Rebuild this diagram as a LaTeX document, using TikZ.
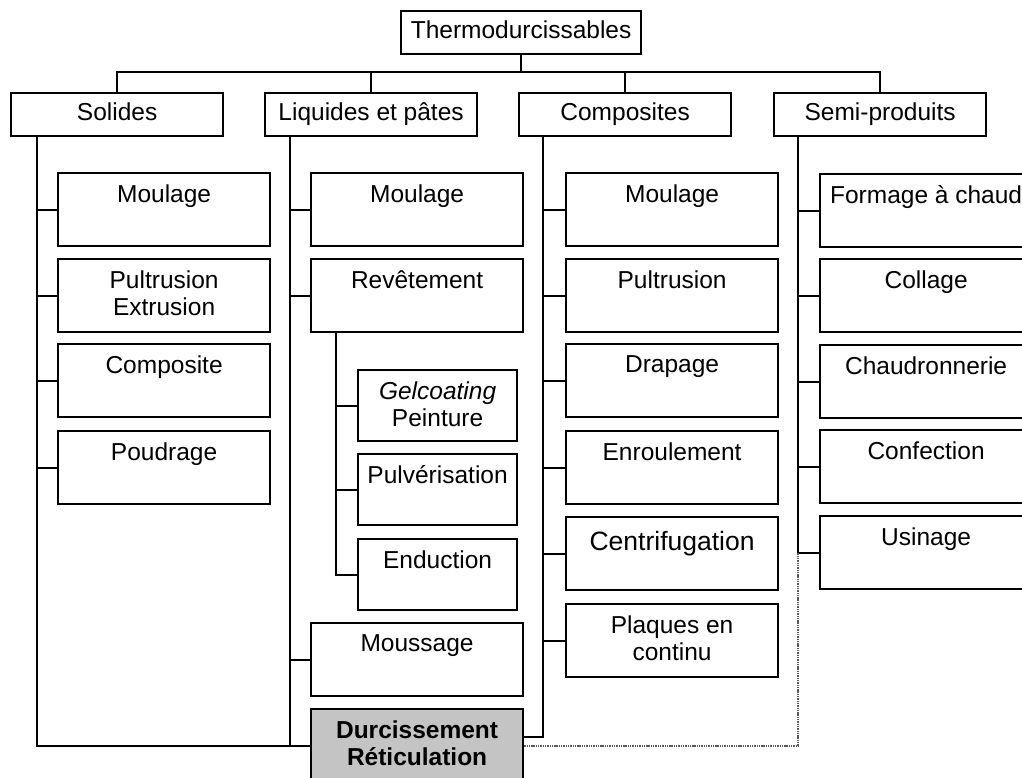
\documentclass[tikz,border=0pt]{standalone}
\usepackage{fontspec}
\setmainfont{Liberation Sans}
\usetikzlibrary{calc}
\definecolor{durc}{RGB}{196,196,196}
\tikzset{
  ln/.style={line width=2.2pt},
  every node/.style={font=\fontsize{24.5}{27}\selectfont},
  hbox/.style={draw, line width=2.2pt, anchor=north west, inner sep=0pt, minimum width=212pt, minimum height=43pt, text height=17.5pt, text depth=5pt},
  cbox/.style={draw, line width=2.2pt, anchor=north west, inner sep=0pt, minimum width=212pt, minimum height=73pt},
  sbox/.style={cbox, minimum width=159pt, minimum height=71pt},
  lbl/.style={anchor=north, inner sep=0pt, yshift=-12.5pt, align=center, draw=none, fill=none},
  dotln/.style={line width=2pt, dash pattern=on 1.4pt off 0.9pt, black!65},
}
\begin{document}
\begin{tikzpicture}[x=1pt,y=-1pt]
\useasboundingbox (0,0) rectangle (1022,778);
\clip (0,0) rectangle (1022,778);

% top level
\node[hbox, minimum width=240pt] (top) at (400,10) {Thermodurcissables};
\node[hbox] (sol) at (10,92) {Solides};
\node[hbox] (liq) at (264,92) {Liquides et pâtes};
\node[hbox] (comp) at (518,92) {Composites};
\node[hbox] (semi) at (773,92) {Semi-produits};

% Solides
\node[cbox, label={[lbl]north:Moulage}] (s1) at (57,172) {};
\node[cbox, label={[lbl]north:{Pultrusion\\Extrusion}}] (s2) at (57,258) {};
\node[cbox, label={[lbl]north:Composite}] (s3) at (57,343) {};
\node[cbox, label={[lbl]north:Poudrage}] (s4) at (57,430) {};

% Liquides et pates
\node[cbox, label={[lbl]north:Moulage}] (l1) at (310,172) {};
\node[cbox, label={[lbl]north:Revêtement}] (l2) at (310,258) {};
\node[sbox, label={[lbl]north:{\itshape Gelcoating\\Peinture}}] (g1) at (357,369) {};
\node[sbox, label={[lbl]north:Pulvérisation}] (g2) at (357,453) {};
\node[sbox, label={[lbl]north:Enduction}] (g3) at (357,538) {};
\node[cbox, label={[lbl]north:Moussage}] (l3) at (310,622) {};
\node[cbox, fill=durc, label={[lbl, font=\fontsize{24.5}{27}\selectfont\bfseries]north:{Durcissement\\Réticulation}}] (durc) at (310,708) {};

% Composites
\node[cbox, label={[lbl]north:Moulage}] (c1) at (565,172) {};
\node[cbox, label={[lbl]north:Pultrusion}] (c2) at (565,258) {};
\node[cbox, label={[lbl]north:Drapage}] (c3) at (565,343) {};
\node[cbox, label={[lbl]north:Enroulement}] (c4) at (565,430) {};
\node[cbox, label={[lbl, yshift=-3pt, font=\fontsize{26.5}{29}\selectfont]north:Centrifugation}] (c5) at (565,516) {};
\node[cbox, label={[lbl]north:{Plaques en\\continu}}] (c6) at (565,603) {};

% Semi-produits
\node[cbox, label={[lbl]north:Formage à chaud}] (p1) at (819,173) {};
\node[cbox, label={[lbl]north:Collage}] (p2) at (819,258) {};
\node[cbox, label={[lbl]north:Chaudronnerie}] (p3) at (819,344) {};
\node[cbox, label={[lbl]north:Confection}] (p4) at (819,429) {};
\node[cbox, label={[lbl]north:Usinage}] (p5) at (819,515) {};

% top connectors
\coordinate (bus) at (0,72);
\draw[ln] (top.south) -- (top.south |- bus);
\draw[ln] (sol.north) -- (sol.north |- bus) -- (semi.north |- bus) -- (semi.north);
\draw[ln] (liq.north) -- (liq.north |- bus);
\draw[ln] (comp.north) -- (comp.north |- bus);

% Solides trunk
\coordinate (ts) at ([xshift=27pt]sol.south west);
\draw[ln] (ts) |- (durc.west);
\foreach \n in {s1,s2,s3,s4} \draw[ln] (ts |- \n.west) -- (\n.west);

% Liquides trunk
\coordinate (tl) at ([xshift=26pt]liq.south west);
\draw[ln] (tl) -- (tl |- durc.west);
\foreach \n in {l1,l2,l3} \draw[ln] (tl |- \n.west) -- (\n.west);

% Revetement sub-trunk
\coordinate (tr) at ([xshift=26pt]l2.south west);
\draw[ln] (tr) |- (g3.west);
\foreach \n in {g1,g2} \draw[ln] (tr |- \n.west) -- (\n.west);

% Composites trunk
\coordinate (tc) at ([xshift=25pt]comp.south west);
\draw[ln] (tc) |- ([yshift=9pt]durc.east);
\foreach \n in {c1,c2,c3,c4,c5,c6} \draw[ln] (tc |- \n.west) -- (\n.west);

% Semi-produits trunk
\coordinate (tp) at ([xshift=25pt]semi.south west);
\draw[ln] (tp) -- (tp |- p5.west);
\foreach \n in {p1,p2,p3,p4,p5} \draw[ln] (tp |- \n.west) -- (\n.west);
\draw[dotln] (durc.east) -| (tp |- p5.west);
\end{tikzpicture}
\end{document}
